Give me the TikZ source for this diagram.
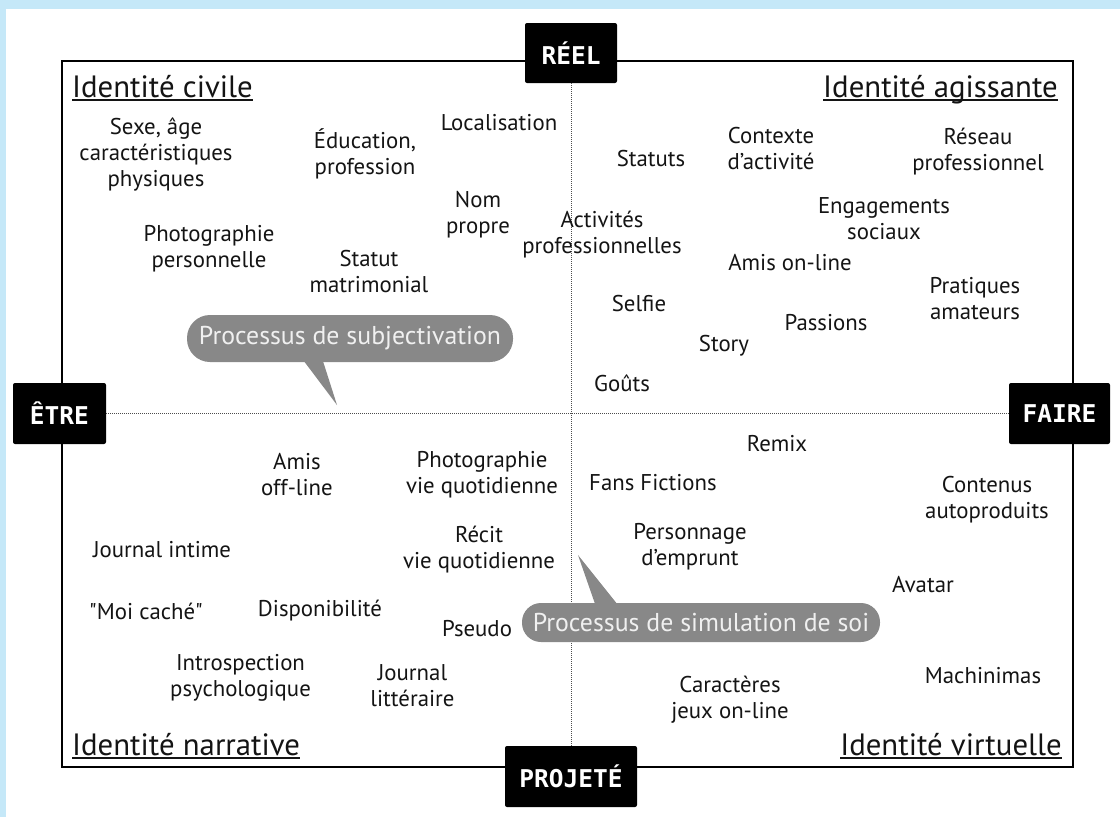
\documentclass[tikz,border=0pt]{standalone}
\usepackage{fontspec}
\setmainfont{PT Sans}
\newfontfamily\labelfont{DejaVu Sans Mono}
\definecolor{bgblue}{RGB}{197,232,248}
\definecolor{bubblegray}{RGB}{136,136,136}
\definecolor{inkgray}{RGB}{20,20,20}

\begin{document}
\begin{tikzpicture}[x=1pt, y=-1pt,
	item/.style={align=center, inner sep=0pt, text=inkgray, font=\fontsize{22.8}{26}\selectfont},
	quadrant/.style={inner sep=0pt, text=inkgray, font=\fontsize{30.8}{32}\selectfont},
	titleline/.style={line width=1.6pt, inkgray},
	axisbox/.style={fill=black, rounded corners=2pt, text=white, inner sep=0pt, font=\labelfont\bfseries\fontsize{24.5}{24.5}\selectfont},
	axisline/.style={gray!60!black, line width=1pt, densely dotted},
	bubble/.style={fill=bubblegray, text=white!94!black, inner sep=0pt, font=\fontsize{25.8}{26}\selectfont},
	tail/.style={fill=bubblegray}]
		\def\frameL{62};
		\def\frameR{1073};
		\def\frameT{61};
		\def\frameB{767};
		
		\useasboundingbox (0,0) rectangle (1120,817);
		\fill[white] (0,0) rectangle (1120,817);
		\fill[bgblue] (0,0) rectangle (1120,9); %top band
		\fill[bgblue] (0,0) rectangle (6,817); %left band
		
		%frame
		\draw[line width=2.8pt] (\frameL,\frameT) rectangle (\frameR,\frameB);
		
		%axis boxes
		\node[axisbox, minimum width=92pt, minimum height=60pt] (reel) at (571,53) {RÉEL};
		\node[axisbox, minimum width=132pt, minimum height=61pt] (projete) at (571,776.5) {PROJETÉ};
		\node[axisbox, minimum width=93pt, minimum height=61pt] (etre) at (59.5,413.5) {ÊTRE};
		\node[axisbox, minimum width=101pt, minimum height=61pt] (faire) at (1059.5,413.5) {FAIRE};
		\draw[axisline] (reel) -- (projete);
		\draw[axisline] (etre) -- (faire);
		
		%quadrant titles
		\node[quadrant, anchor=base west] (civile) at (72,97) {Identité civile};
		\node[quadrant, anchor=base east] (agissante) at (1058,97) {Identité agissante};
		\node[quadrant, anchor=base west] (narrative) at (72,755) {Identité narrative};
		\node[quadrant, anchor=base east] (virtuelle) at (1062,755) {Identité virtuelle};
		\foreach \q in {civile, agissante, narrative, virtuelle}
			\draw[titleline] ([yshift=-3pt]\q.base west) -- ([yshift=-3pt]\q.base east);
		
		%identite civile
		\node[item] (sexe) at (156,154) {Sexe, âge\\caractéristiques\\physiques};
		\node[item] (education) at (365,154) {Éducation,\\profession};
		\node[item] (localisation) at (499,123) {Localisation};
		\node[item] (nom) at (478,215) {Nom\\propre};
		\node[item] (photoperso) at (209,249) {Photographie\\personnelle};
		\node[item] (statut) at (369,272) {Statut\\matrimonial};
		
		%identite agissante
		\node[item] (statuts) at (651,159) {Statuts};
		\node[item] (contexte) at (771,148.5) {Contexte\\d’activité};
		\node[item] (reseau) at (978,151.5) {Réseau\\professionnel};
		\node[item] (activites) at (602,234.5) {Activités\\professionnelles};
		\node[item] (engagements) at (884,219) {Engagements\\sociaux};
		\node[item] (amison) at (790,263) {Amis on-line};
		\node[item] (pratiques) at (975,298.5) {Pratiques\\amateurs};
		\node[item] (selfie) at (639,304) {Selfie};
		\node[item] (passions) at (826,323) {Passions};
		\node[item] (story) at (724,346) {Story};
		\node[item] (gouts) at (622,383) {Goûts};
		
		%identite narrative
		\node[item] (amisoff) at (297,474.5) {Amis\\off-line};
		\node[item] (photovie) at (482,474.5) {Photographie\\vie quotidienne};
		\node[item] (journal) at (162,550) {Journal intime};
		\node[item] (recit) at (479,550) {Récit\\vie quotidienne};
		\node[item] (moicache) at (146,611) {\textquotedbl Moi caché\textquotedbl};
		\node[item] (dispo) at (320,611) {Disponibilité};
		\node[item] (pseudo) at (477,629) {Pseudo};
		\node[item] (intro) at (240.5,677.5) {Introspection\\psychologique};
		\node[item] (litteraire) at (412.5,686) {Journal\\littéraire};
		
		%identite virtuelle
		\node[item] (remix) at (777,444) {Remix};
		\node[item] (fans) at (653,483) {Fans Fictions};
		\node[item] (contenus) at (987,500) {Contenus\\autoproduits};
		\node[item] (personnage) at (690,547) {Personnage\\d’emprunt};
		\node[item] (avatar) at (923,585) {Avatar};
		\node[item] (machinimas) at (983,676) {Machinimas};
		\node[item] (caracteres) at (730,700) {Caractères\\jeux on-line};
		
		%bubbles
		\node[bubble, minimum width=326pt, minimum height=47pt, rounded corners=23pt] (subjectivation) at (350,338.5) {Processus de subjectivation};
		\coordinate (subjtip) at (337,405);
		\fill[tail] ([xshift=-46pt,yshift=1pt]subjectivation.south) -- (subjtip) -- ([xshift=-27pt,yshift=1pt]subjectivation.south) -- cycle;
		
		\node[bubble, minimum width=358pt, minimum height=39pt, rounded corners=19pt] (simulation) at (701,622.5) {Processus de simulation de soi};
		\coordinate (simtip) at (578,555);
		\fill[tail] ([xshift=-106pt,yshift=-1pt]simulation.north) -- (simtip) -- ([xshift=-84pt,yshift=-1pt]simulation.north) -- cycle;
	
	\end{tikzpicture}
\end{document}
